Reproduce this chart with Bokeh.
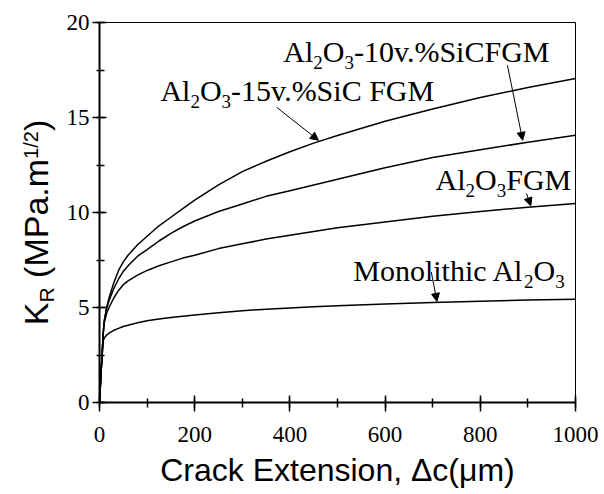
import math
from bokeh.plotting import figure
from bokeh.layouts import row
from bokeh.models import Range1d, SingleIntervalTicker, Arrow, NormalHead
from bokeh.core.properties import value
from bokeh.embed import file_html
from bokeh.resources import INLINE

# ---- data ----
crack_um = [0, 4, 8, 10, 15, 20, 30, 40, 50, 60, 80, 100, 125, 150, 175, 200, 250, 300,
            350, 400, 450, 500, 600, 700, 800, 900, 1000]
kr_15sic = [0, 1.9, 3.7, 4.3, 5.0, 5.5, 6.3, 6.95, 7.4, 7.75, 8.3, 8.75, 9.3, 9.75, 10.2,
            10.65, 11.45, 12.15, 12.7, 13.2, 13.65, 14.05, 14.8, 15.45, 16.05, 16.58, 17.05]
kr_10sic = [0, 1.9, 3.7, 4.3, 4.95, 5.35, 6.0, 6.5, 6.9, 7.2, 7.7, 8.05, 8.5, 8.9, 9.25,
            9.55, 10.05, 10.45, 10.85, 11.15, 11.45, 11.75, 12.35, 12.9, 13.3, 13.7, 14.07]
kr_fgm = [0, 1.9, 3.7, 4.2, 4.7, 5.0, 5.5, 5.9, 6.2, 6.4, 6.7, 6.95, 7.2, 7.4, 7.6,
          7.75, 8.1, 8.35, 8.6, 8.8, 9.0, 9.2, 9.5, 9.8, 10.05, 10.28, 10.47]
kr_mono = [0, 1.9, 3.25, 3.4, 3.55, 3.65, 3.8, 3.9, 4.0, 4.07, 4.2, 4.3, 4.4, 4.47, 4.54,
           4.6, 4.72, 4.83, 4.91, 4.98, 5.04, 5.09, 5.18, 5.26, 5.33, 5.39, 5.44]

x_label = "Crack Extension, \u0394c(\u03bcm)"

SERIF = "Liberation Serif"
SANS = "Liberation Sans"

TIMES_W = {"A": .722, "l": .278, "O": .722, "-": .333, "1": .5, "0": .5, "5": .5, "v": .5,
           ".": .25, "%": .833, "S": .556, "i": .278, "C": .667, " ": .25, "F": .556,
           "G": .722, "M": .889, "o": .5, "n": .5, "t": .278, "h": .5, "c": .444,
           "2": .5, "3": .5}
ARIAL_W = {"K": .667, "R": .722, " ": .278, "(": .333, "M": .833, "P": .667, "a": .556,
           ".": .278, "m": .833, "1": .556, "/": .278, "2": .556, ")": .333}
# the rendered baseline sits this fraction of the font size below the anchor
BASE_SHIFT = {SERIF: 0.3375, SANS: 0.3465}

W, H = 604, 494
LAB_W = 60
BORDERS = dict(min_border_top=22, min_border_bottom=92)

p = figure(width=W - LAB_W, height=H, output_backend="svg", toolbar_location=None,
           x_range=Range1d(0, 1000), y_range=Range1d(0, 20),
           min_border_left=99 - LAB_W, min_border_right=29, **BORDERS)
p.background_fill_color = "white"
p.border_fill_color = "white"
p.outline_line_color = "black"
p.outline_line_width = 1
p.xgrid.visible = False
p.ygrid.visible = False

p.xaxis.ticker = SingleIntervalTicker(interval=200, num_minor_ticks=2)
p.yaxis.ticker = SingleIntervalTicker(interval=5, num_minor_ticks=2)
for ax in (p.xaxis[0], p.yaxis[0]):
    ax.axis_line_width = 2
    ax.axis_line_color = "black"
    ax.major_tick_line_width = 1.5
    ax.minor_tick_line_width = 1.5
    ax.major_tick_line_color = "black"
    ax.minor_tick_line_color = "black"
    ax.major_label_text_font = SERIF
    ax.major_label_text_font_size = "23px"
    ax.major_label_text_color = "black"
p.xaxis.major_tick_in = 7
p.xaxis.major_tick_out = 9
p.xaxis.minor_tick_in = 4
p.xaxis.minor_tick_out = 5
p.xaxis.major_label_standoff = 15
p.yaxis.major_tick_in = 7
p.yaxis.major_tick_out = 7
p.yaxis.minor_tick_in = 5
p.yaxis.minor_tick_out = 3
p.yaxis.major_label_standoff = 3

p.xaxis.axis_label = x_label
p.xaxis.axis_label_text_font = SANS
p.xaxis.axis_label_text_font_size = "32px"
p.xaxis.axis_label_text_font_style = "normal"
p.xaxis.axis_label_text_color = "black"
p.xaxis.axis_label_standoff = 7

for ys in (kr_15sic, kr_10sic, kr_fgm, kr_mono):
    p.line(crack_um, ys, line_color="black", line_width=1.5)


def rich(fig, x, y, pieces, font, widths, rotated=False):
    """Draw a run of text pieces (normal / sub / superscript) as text glyphs,
    with (x, y) the start of the run on its baseline."""
    off = 0.0
    k = BASE_SHIFT[font]
    for text, size, shift in pieces:
        lead = len(text) - len(text.lstrip(" "))
        off += lead * widths[" "] * size          # leading blanks collapse in SVG
        text = text.lstrip(" ")
        if not rotated:
            xo, yo, ang = off, -shift - k * size, 0.0
        else:
            xo, yo, ang = -shift - k * size, -off, math.pi / 2
        fig.text(x=[x], y=[y], text=[text], x_offset=xo, y_offset=yo, angle=ang,
                 text_font=value(font), text_font_size=value(f"{size}px"),
                 text_color="black", text_align="left", text_baseline="alphabetic")
        off += sum(widths.get(c, 0.5) for c in text) * size


def al2o3(pre, post, big=30, small=19, drop=-8):
    return [(pre + "Al", big, 0), ("2", small, drop), ("O", big, 0), ("3", small, drop)] + \
           ([(post, big, 0)] if post else [])


rich(p, 386, 17.96, al2o3("", "-10v.%SiCFGM"), SERIF, TIMES_W)
rich(p, 128, 15.91, al2o3("", "-15v.%SiC FGM"), SERIF, TIMES_W)
rich(p, 706, 11.23, al2o3("", "FGM"), SERIF, TIMES_W)
rich(p, 533, 6.44, al2o3("Monolithic ", ""), SERIF, TIMES_W)

for (xs, ys, xe, ye) in [(857, 17.75, 889, 13.8), (372, 15.54, 460, 13.8),
                         (897, 11.0, 906, 10.35), (697, 6.87, 709, 5.32)]:
    p.add_layout(Arrow(end=NormalHead(size=8, fill_color="black", line_color="black"),
                       x_start=xs, y_start=ys, x_end=xe, y_end=ye,
                       line_color="black", line_width=1))

# y axis title K_R (MPa.m^1/2), drawn rotated in a narrow strip left of the chart;
# the strip shares the chart's vertical frame and y range
ylab = figure(width=LAB_W, height=H, output_backend="svg", toolbar_location=None,
              x_range=Range1d(0, LAB_W), y_range=Range1d(0, 20),
              min_border_left=0, min_border_right=0, **BORDERS,
              x_axis_type=None, y_axis_type=None)
ylab.outline_line_color = None
ylab.xgrid.visible = False
ylab.ygrid.visible = False
ylab.background_fill_color = "white"
ylab.border_fill_color = "white"
rich(ylab, 47, 4.07,
     [("K", 34, 0), ("R", 21, -6), (" (MPa.m", 34, 0), ("1/2", 20, 10), (")", 34, 0)],
     SANS, ARIAL_W, rotated=True)

layout = row(ylab, p)
open("out.html", "w").write(file_html(layout, INLINE))
